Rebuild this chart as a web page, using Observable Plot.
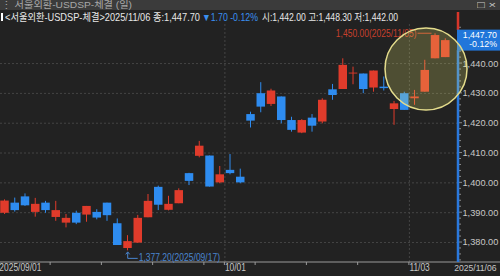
<!DOCTYPE html>
<html><head><meta charset="utf-8">
<script src="https://cdn.jsdelivr.net/npm/d3@7"></script>
<script src="https://cdn.jsdelivr.net/npm/@observablehq/plot@0.6"></script>
<style>
html,body{margin:0;padding:0;background:#222;}
#wrap{position:relative;width:500px;height:276px;overflow:hidden;background:#222;}
#wrap svg{position:absolute;left:0;top:0;}
.hdr{position:absolute;white-space:nowrap;transform-origin:0 50%;line-height:1;font-family:"Liberation Sans","Noto Sans CJK KR",sans-serif;}
#tbar{position:absolute;left:0;top:0;width:500px;height:10px;background:#3b3b3b;}
</style>
</head><body>
<div id="wrap"></div>
<script>
// ---- data ----
const dates = ["2025-09-01","2025-09-02","2025-09-03","2025-09-04","2025-09-05","2025-09-08","2025-09-09","2025-09-10","2025-09-11","2025-09-12",
"2025-09-15","2025-09-16","2025-09-17","2025-09-18","2025-09-19","2025-09-22","2025-09-23","2025-09-24","2025-09-25","2025-09-26",
"2025-09-29","2025-09-30","2025-10-01","2025-10-02","2025-10-10","2025-10-13","2025-10-14","2025-10-15","2025-10-16","2025-10-17",
"2025-10-20","2025-10-21","2025-10-22","2025-10-23","2025-10-24","2025-10-27","2025-10-28","2025-10-29","2025-10-30","2025-10-31",
"2025-11-03","2025-11-04","2025-11-05","2025-11-06"];
const open  = [1389.8,1393.2,1395.3,1390.1,1393.2,1388.4,1386.5,1389.8,1389.2,1390.1,
1393.2,1386.3,1378.0,1379.8,1388.3,1398.5,1390.8,1393.0,1403.1,1408.9,
1409.0,1400.0,1404.2,1401.9,1422.9,1429.9,1426.3,1428.8,1420.9,1416.7,
1421.7,1420.4,1431.2,1431.3,1436.5,1436.5,1431.8,1432.1,1424.6,1429.9,
1428.2,1430.4,1441.6,1442.0];
const high  = [1394.3,1394.9,1396.3,1394.8,1393.8,1393.8,1389.4,1390.5,1392.1,1391.0,
1393.2,1387.9,1382.3,1389.1,1396.1,1398.9,1395.5,1398.0,1403.2,1413.9,
1409.0,1405.5,1409.5,1404.6,1423.7,1433.6,1431.4,1428.8,1422.0,1421.2,
1422.9,1428.2,1433.0,1441.6,1438.8,1436.5,1437.5,1435.5,1427.3,1430.4,
1431.0,1441.1,1450.0,1448.3];
const low   = [1389.4,1390.2,1392.1,1388.5,1389.8,1387.1,1384.9,1386.0,1386.8,1387.6,
1387.1,1379.0,1377.2,1379.7,1388.3,1390.7,1390.6,1393.0,1399.1,1408.4,
1398.6,1399.7,1402.7,1399.7,1418.4,1423.5,1425.6,1419.8,1417.0,1416.5,
1417.0,1419.8,1427.7,1431.3,1432.9,1429.9,1430.4,1430.8,1419.3,1424.3,
1426.0,1430.4,1441.6,1442.0];
const close = [1393.9,1390.7,1392.3,1392.8,1390.7,1390.7,1388.1,1386.5,1392.1,1388.2,
1389.0,1379.0,1380.3,1388.1,1393.8,1392.5,1392.8,1397.4,1400.5,1412.3,
1398.6,1402.7,1403.1,1400.0,1420.7,1425.4,1430.8,1420.9,1417.6,1420.9,
1419.0,1427.7,1429.3,1439.4,1436.8,1431.3,1437.5,1431.6,1426.5,1424.3,
1428.8,1437.7,1449.4,1447.7];
const yTicks = [1380,1390,1400,1410,1420,1430,1440];
const titleText = "서울외환-USDSP-체결 (일)";
const infoName = "<서울외환-USDSP-체결>";
const lastChange = "▼1.70  -0.12%";
const lastPct = "-0.12%";
const infoOHL = "시:1,442.00 고:1,448.30 저:1,442.00";

// ---- build ----
const FONT = '"Liberation Sans","Noto Sans CJK KR",sans-serif';
const RED = "#e03b2b", BLUE = "#2e8cf0", AXISBLUE = "#2a78dc";
const fmt = d3.format(",.2f");
const pd = s => new Date(s + "T00:00:00");
const slash = s => s.replace(/-/g, "/");
const data = dates.map((d, i) => ({i, ds: d, date: pd(d), open: open[i], high: high[i], low: low[i], close: close[i]}));
const col = d => d.close >= d.open ? RED : BLUE;
const monthStarts = data.filter((d, k) => k === 0 || d.date.getMonth() !== data[k - 1].date.getMonth())
  .map((d, k) => ({...d, label: k === 0 ? slash(d.ds) : slash(d.ds).slice(5)}));
const tickIdx = data.filter(d => d.date.getDay() === 1 || monthStarts.some(m => m.i === d.i));
const last = data[data.length - 1];

const chart = Plot.plot({
  width: 500, height: 276,
  marginTop: 24, marginBottom: 14, marginLeft: 0, marginRight: 42,
  style: {background: "#222222", color: "#c8c8c8", fontFamily: FONT, fontSize: "10.5px"},
  x: {type: "linear", domain: [-0.39, 44.29], axis: null},
  y: {domain: [1373.3, 1453.1], axis: null},
  color: {type: "identity"},
  marks: [
    Plot.ruleY(yTicks, {stroke: "#454545", strokeDasharray: "2,2"}),
    Plot.ruleX(monthStarts.slice(1), {x: d => d.i - 0.5, stroke: "#454545", strokeDasharray: "2,2"}),
    Plot.ruleX(data, {x: "i", y1: "low", y2: "high", stroke: col, strokeWidth: 1}),
    Plot.ruleX(data, {x: "i", y1: "open", y2: "close", stroke: col, strokeWidth: 8.5}),
    Plot.text(yTicks, {y: d => d, text: d => fmt(d), frameAnchor: "right", dx: 4, textAnchor: "start", fill: "#c8c8c8", fontSize: 9.2, className: "ylab"}),
    Plot.text(monthStarts, {x: d => d.i - 0.5, text: "label", frameAnchor: "bottom", dy: 8, textAnchor: "start", fill: "#c8c8c8", className: "xlab"}),
    Plot.text([last], {text: d => slash(d.ds), frameAnchor: "bottom-right", dx: 38, dy: 8, textAnchor: "end", fill: "#c8c8c8", fontSize: 8.6})
  ]
});

document.getElementById("wrap").appendChild(chart);
const sx = v => chart.scale("x").apply(v);
const sy = v => chart.scale("y").apply(v);
const svg = d3.select(chart);
const squeeze = (sel, f) => sel.each(function () {
  const w = this.getComputedTextLength();
  this.setAttribute("textLength", w * f);
  this.setAttribute("lengthAdjust", "spacingAndGlyphs");
});
squeeze(svg.selectAll(".xlab text"), 0.8);

const g = svg.append("g").attr("text-anchor", "start").attr("font-family", FONT);
const xR = sx(44.29), yB = sy(1373.3);

// bottom axis
g.append("line").attr("x1", 0).attr("x2", 500).attr("y1", yB).attr("y2", yB).attr("stroke", "#9a9a9a");
tickIdx.forEach(d => g.append("line").attr("x1", sx(d.i - 0.5)).attr("x2", sx(d.i - 0.5)).attr("y1", yB).attr("y2", yB + 3).attr("stroke", "#9a9a9a"));

// right axis minor ticks
d3.range(1374, 1453, 2).forEach(v => g.append("line").attr("x1", xR + 1).attr("x2", xR + (v % 10 === 0 ? 4 : 3)).attr("y1", sy(v)).attr("y2", sy(v)).attr("stroke", "#8a8a8a"));

// right axis line: red above price box, blue below
const py = sy(last.close);
g.append("line").attr("x1", xR).attr("x2", xR).attr("y1", 12).attr("y2", py - 10).attr("stroke", "#d8362a").attr("stroke-width", 2.5);
g.append("line").attr("x1", xR).attr("x2", xR).attr("y1", py + 10).attr("y2", yB).attr("stroke", AXISBLUE).attr("stroke-width", 2.5);
g.append("rect").attr("x", xR - 1).attr("y", py - 10.5).attr("width", 500 - xR + 1).attr("height", 21).attr("fill", "#2176da");
g.append("text").attr("x", 497).attr("y", py - 4.8).attr("text-anchor", "end").attr("dominant-baseline", "middle").attr("fill", "#fff").attr("font-size", 8.8).text(fmt(last.close));
g.append("text").attr("x", 497).attr("y", py + 4.8).attr("text-anchor", "end").attr("dominant-baseline", "middle").attr("fill", "#fff").attr("font-size", 8.8).text(lastPct);

// high / low annotations
const hi = data.reduce((a, b) => b.high > a.high ? b : a);
const lo = data.reduce((a, b) => b.low < a.low ? b : a);
const hx = sx(hi.i), hyy = sy(hi.high);
g.append("line").attr("x1", hx - 17).attr("x2", hx - 3).attr("y1", hyy).attr("y2", hyy).attr("stroke", "#c8402c");
const ht = g.append("text").attr("x", hx - 18).attr("y", hyy + 1.5).attr("text-anchor", "end").attr("dominant-baseline", "middle").attr("fill", "#c8402c").attr("font-size", 10).text(fmt(hi.high) + "(" + slash(hi.ds) + ")");
squeeze(ht, 0.85);
const lx = sx(lo.i) + 0.7, ly = sy(lo.low);
g.append("path").attr("d", `M${lx},${ly + 2}V${ly + 8}H${lx + 10}`).attr("fill", "none").attr("stroke", "#4a86d0");
g.append("path").attr("d", `M${lx - 2},${ly + 4}L${lx},${ly + 1.5}L${lx + 2},${ly + 4}`).attr("fill", "none").attr("stroke", "#4a86d0");
const lt = g.append("text").attr("x", lx + 11).attr("y", ly + 7.5).attr("text-anchor", "start").attr("dominant-baseline", "middle").attr("fill", "#4a86d0").attr("font-size", 10).text(fmt(lo.low) + "(" + slash(lo.ds) + ")");
squeeze(lt, 0.85);

// highlight circle around recent candles
g.append("circle").attr("cx", sx(41.17)).attr("cy", sy(1438)).attr("r", 41)
  .attr("fill", "rgba(255,255,120,0.2)").attr("stroke", "#e4dc8c").attr("stroke-width", 1.5);

// header (HTML overlay)
const wrap = document.getElementById("wrap");
const add = (html, css, target) => {
  const el = document.createElement("div"); el.className = "hdr"; el.style.cssText = css; el.innerHTML = html; wrap.appendChild(el);
  if (target) { const w = el.getBoundingClientRect().width; if (w > 0) el.style.transform = `scaleX(${target / w})`; }
  return el;
};
const tb = document.createElement("div"); tb.id = "tbar"; wrap.appendChild(tb);
add("⋮ " + titleText, "left:1px;top:0px;font-size:9.5px;color:#a8a8a8;", 131);
add("□ ×", "left:477px;top:0px;font-size:9.5px;color:#c8c8c8;", 19);
add("", "left:1px;top:13px;width:2px;height:8px;background:#fff;");
add(infoName + slash(last.ds) + " 종:" + fmt(last.close), "left:5px;top:12px;font-size:10.5px;color:#e8e8e8;", 195);
add(lastChange, "left:202px;top:12px;font-size:10.5px;color:#3a8ff0;", 56);
add(infoOHL, "left:262px;top:12px;font-size:10.5px;color:#e8e8e8;", 136);
</script>
</body></html>
